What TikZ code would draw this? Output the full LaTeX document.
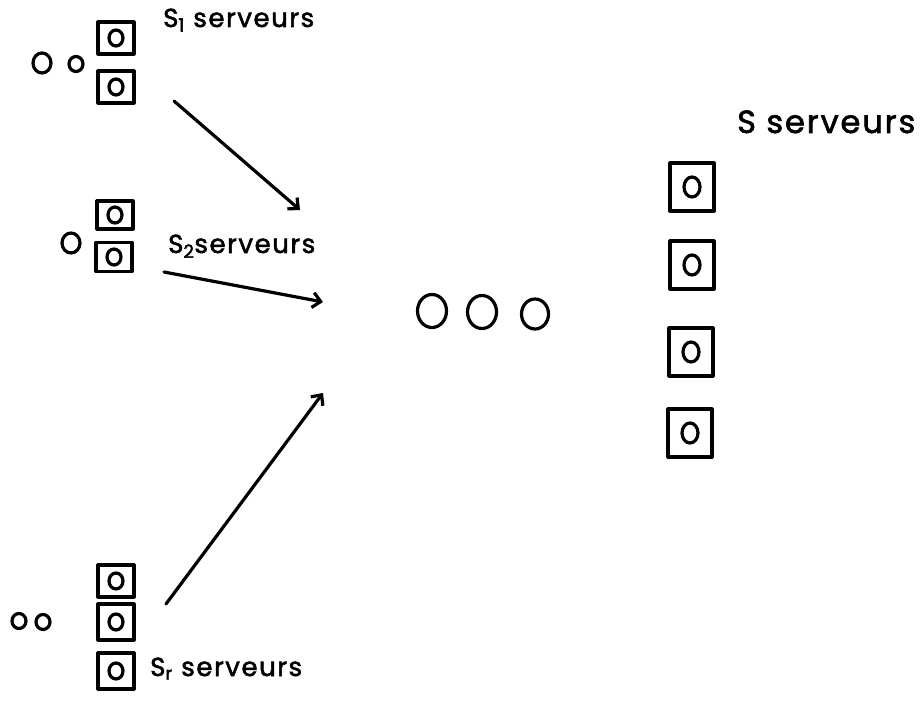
\documentclass[tikz,border=0pt]{standalone}
\usepackage{fontspec}
\setmainfont{Poppins}[FakeBold=2,LetterSpace=6]
\usetikzlibrary{arrows.meta,shapes.geometric}
\begin{document}
\begin{tikzpicture}[x=1pt,y=-1pt,
  ink/.style={line width=3.2pt,line join=round,line cap=round},
  srv/.style={ink,draw,rectangle,inner sep=0pt,minimum width=36pt,minimum height=32pt},
  bigsrv/.style={ink,draw,rectangle,inner sep=0pt,minimum width=44pt,minimum height=48pt},
  dot/.style={ink,draw,ellipse,inner sep=0pt,minimum width=14pt,minimum height=16pt},
  bigdot/.style={ink,draw,ellipse,inner sep=0pt,minimum width=16pt,minimum height=20pt},
  cust/.style={ink,draw,ellipse,inner sep=0pt,minimum width=18pt,minimum height=20pt},
  smallcust/.style={ink,draw,ellipse,inner sep=0pt,minimum width=14pt,minimum height=15pt},
  qcust/.style={ink,draw,ellipse,inner sep=0pt,minimum width=29pt,minimum height=33pt},
  lbl/.style={inner sep=0pt,anchor=base west,font=\fontsize{26}{26}\selectfont},
  flow/.style={ink,-{Straight Barb[length=8pt,width=15pt,line width=3.2pt]}}]
\useasboundingbox (0,0) rectangle (924,703);

% first group: two servers, two waiting customers
\node[srv] (a1) at (116,38) {};
\node[srv] (a2) at (116,87) {};
\node[dot] at (a1.center) {};
\node[dot] at (a2.center) {};
\node[cust] (ac1) at (42,63) {};
\node[smallcust] (ac2) at (76,64) {};
\node[lbl] (al) at (163,27) {S\textsubscript{1} serveurs};

% second group
\node[srv,minimum height=28pt] (b1) at (115,215) {};
\node[srv,minimum height=29pt] (b2) at (114,257) {};
\node[dot] at (b1.center) {};
\node[dot] at (b2.center) {};
\node[cust] (bc1) at (71,243) {};
\node[lbl] (bl) at (168,253) {S\textsubscript{2}serveurs};

% last group
\node[srv] (c1) at (116,581) {};
\node[srv,minimum height=36pt] (c2) at (116,622) {};
\node[srv,minimum height=36pt] (c3) at (116,671) {};
\node[dot] at (c1.center) {};
\node[dot] at (c2.center) {};
\node[dot] at (c3.center) {};
\node[smallcust] (cc1) at (19,621) {};
\node[smallcust] (cc2) at (43,622) {};
\node[lbl] (cl) at (150,676) {S\textsubscript{r} serveurs};

% pooled queue
\node[qcust] (q1) at (432,311) {};
\node[qcust] (q2) at (482,312) {};
\node[qcust,minimum width=27pt,minimum height=30pt] (q3) at (535,314) {};

% pooled servers
\node[bigsrv] (d1) at (692,187) {};
\node[bigsrv] (d2) at (692,265) {};
\node[bigsrv] (d3) at (691,352) {};
\node[bigsrv] (d4) at (690,433) {};
\node[bigdot] at (d1.center) {};
\node[bigdot] at (d2.center) {};
\node[bigdot] at (d3.center) {};
\node[bigdot] at (d4.center) {};
\node[lbl,font=\fontsize{32}{32}\selectfont] (dl) at (737,133) {S serveurs};

% merging arrows
\coordinate (a0) at (174,101);
\coordinate (b0) at (164,272);
\coordinate (c0) at (166,604);
\coordinate (m1) at (300,210);
\coordinate (m2) at (323,302);
\coordinate (m3) at (323,393);
\draw[flow] (a0) -- (m1);
\draw[flow] (b0) -- (m2);
\draw[flow] (c0) -- (m3);
\end{tikzpicture}
\end{document}
